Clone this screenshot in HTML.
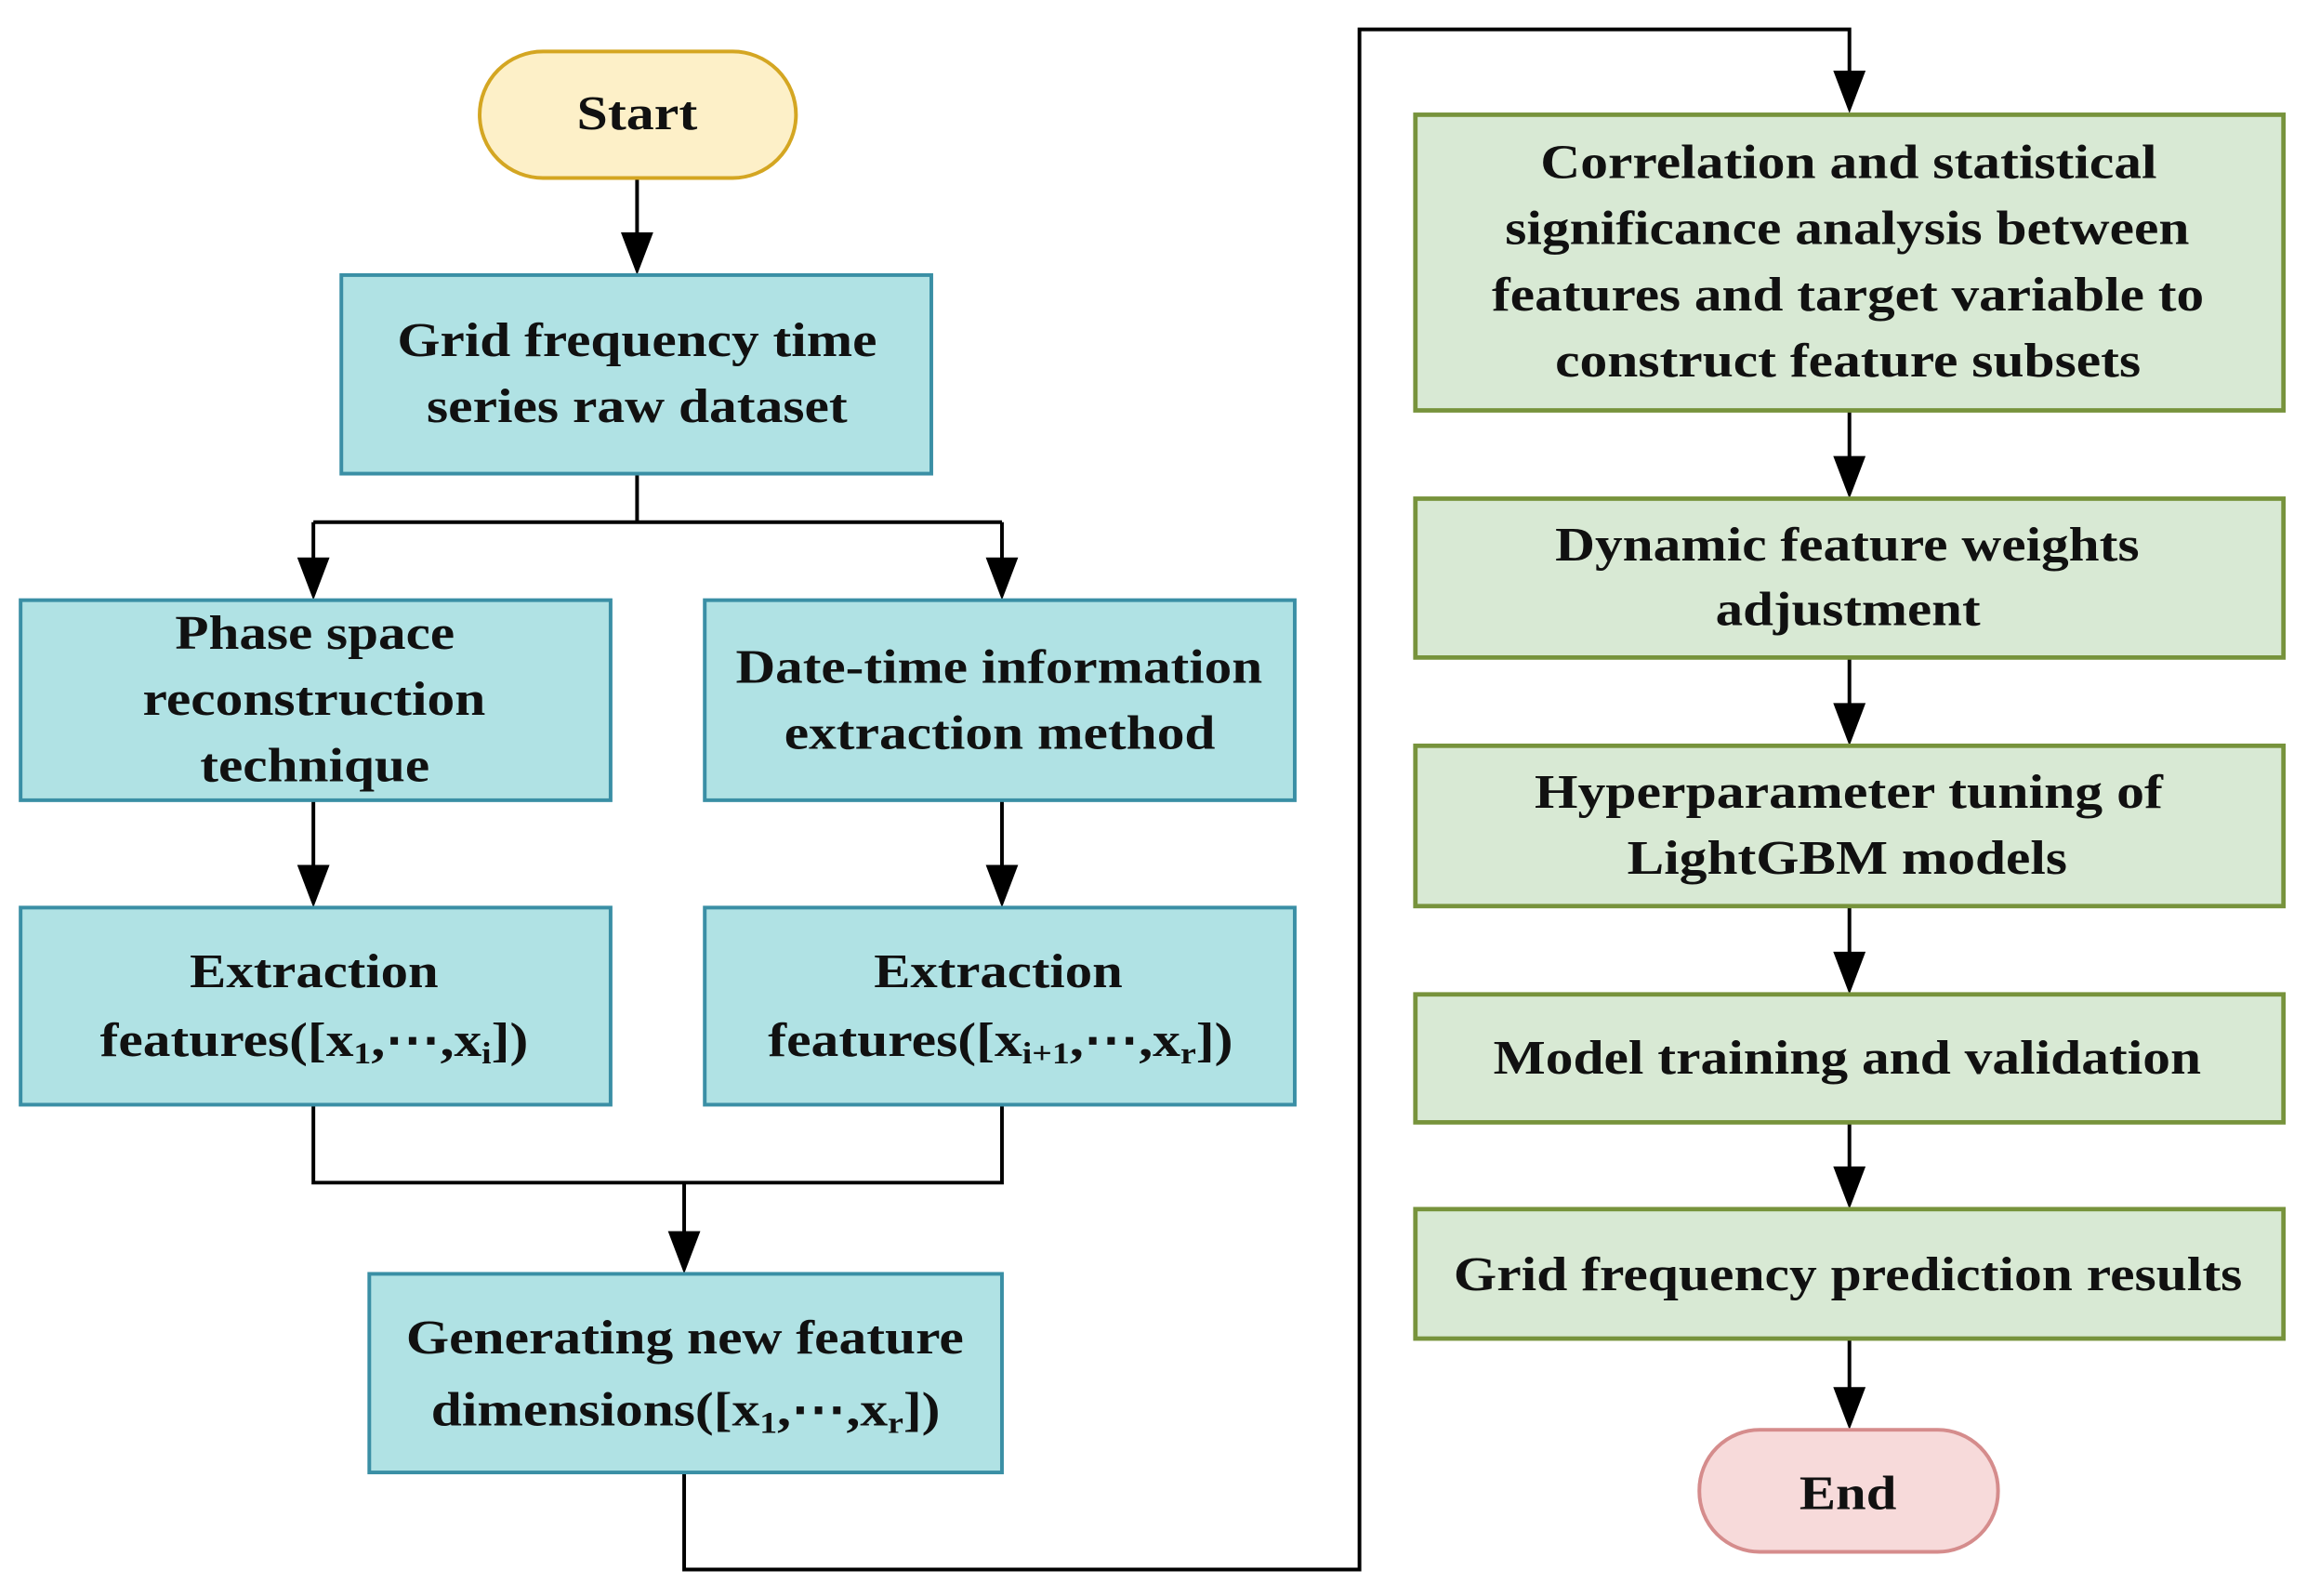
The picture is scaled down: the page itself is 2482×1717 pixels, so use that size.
<!DOCTYPE html>
<html><head><meta charset="utf-8"><style>html,body{margin:0;padding:0;background:#fff}svg{display:block}</style></head>
<body>
<svg width="2482" height="1717" viewBox="0 0 1568 1085" preserveAspectRatio="none" xmlns="http://www.w3.org/2000/svg">
<g fill="none" stroke="#000" stroke-width="2.5">
<path d="M433,121 V165"/>
<path d="M433,322 V355 M213,355 H681 M213,355 V385 M681,355 V385"/>
<path d="M213,544 V595 M681,544 V595"/>
<path d="M213,751 V804 H681 V751 M465,804 V845"/>
<path d="M465,1001 V1067 H924 V20 H1257 V55"/>
<path d="M1257,279 V318 M1257,447 V485 M1257,616 V655 M1257,763 V800 M1257,910 V950"/>
</g>
<g fill="#000">
<path d="M422,158 H444 L433,187 Z"/>
<path d="M202,379 H224 L213,408 Z"/>
<path d="M670,379 H692 L681,408 Z"/>
<path d="M202,588 H224 L213,617 Z"/>
<path d="M670,588 H692 L681,617 Z"/>
<path d="M454,837 H476 L465,866 Z"/>
<path d="M1246,48 H1268 L1257,77 Z"/>
<path d="M1246,310 H1268 L1257,339 Z"/>
<path d="M1246,478 H1268 L1257,507 Z"/>
<path d="M1246,647 H1268 L1257,676 Z"/>
<path d="M1246,793 H1268 L1257,822 Z"/>
<path d="M1246,943 H1268 L1257,972 Z"/>
</g>
<g stroke-width="2.5">
<rect x="326" y="35" width="215" height="86" rx="43" fill="#fdf0c8" stroke="#d4a622"/>
<rect x="1155" y="972" width="203" height="83" rx="41" fill="#f7dada" stroke="#d58c8c"/>
<g fill="#b0e2e4" stroke="#3a8fa5">
<rect x="232" y="187" width="401" height="135"/>
<rect x="14" y="408" width="401" height="136"/>
<rect x="479" y="408" width="401" height="136"/>
<rect x="14" y="617" width="401" height="134"/>
<rect x="479" y="617" width="401" height="134"/>
<rect x="251" y="866" width="430" height="135"/>
</g>
<g fill="#d8e9d4" stroke="#77933c" stroke-width="3">
<rect x="962" y="78" width="590" height="201"/>
<rect x="962" y="339" width="590" height="108"/>
<rect x="962" y="507" width="590" height="109"/>
<rect x="962" y="676" width="590" height="87"/>
<rect x="962" y="822" width="590" height="88"/>
</g>
</g>
<g font-family="'Liberation Serif', serif" font-weight="bold" font-size="33" fill="#111">
<text x="392" y="88" textLength="82" lengthAdjust="spacingAndGlyphs">Start</text>
<text x="1223" y="1026" textLength="66" lengthAdjust="spacingAndGlyphs">End</text>
<text x="270" y="242" textLength="326" lengthAdjust="spacingAndGlyphs">Grid frequency time</text>
<text x="290" y="287" textLength="286" lengthAdjust="spacingAndGlyphs">series raw dataset</text>
<text x="119" y="441" textLength="190" lengthAdjust="spacingAndGlyphs">Phase space</text>
<text x="97" y="486" textLength="233" lengthAdjust="spacingAndGlyphs">reconstruction</text>
<text x="136" y="531" textLength="156" lengthAdjust="spacingAndGlyphs">technique</text>
<text x="500" y="464" textLength="358" lengthAdjust="spacingAndGlyphs">Date-time information</text>
<text x="533" y="509" textLength="293" lengthAdjust="spacingAndGlyphs">extraction method</text>
<text x="129" y="671" textLength="169" lengthAdjust="spacingAndGlyphs">Extraction</text>
<text x="68" y="718" textLength="291" lengthAdjust="spacingAndGlyphs">features([x<tspan font-size="21" dy="5">1</tspan><tspan dy="-5">,⋯,x</tspan><tspan font-size="21" dy="5">i</tspan><tspan dy="-5">])</tspan></text>
<text x="594" y="671" textLength="169" lengthAdjust="spacingAndGlyphs">Extraction</text>
<text x="522" y="718" textLength="316" lengthAdjust="spacingAndGlyphs">features([x<tspan font-size="21" dy="5">i+1</tspan><tspan dy="-5">,⋯,x</tspan><tspan font-size="21" dy="5">r</tspan><tspan dy="-5">])</tspan></text>
<text x="276" y="920" textLength="379" lengthAdjust="spacingAndGlyphs">Generating new feature</text>
<text x="293" y="969" textLength="346" lengthAdjust="spacingAndGlyphs">dimensions([x<tspan font-size="21" dy="5">1</tspan><tspan dy="-5">,⋯,x</tspan><tspan font-size="21" dy="5">r</tspan><tspan dy="-5">])</tspan></text>
<text x="1047" y="121" textLength="419" lengthAdjust="spacingAndGlyphs">Correlation and statistical</text>
<text x="1023" y="166" textLength="465" lengthAdjust="spacingAndGlyphs">significance analysis between</text>
<text x="1014" y="211" textLength="484" lengthAdjust="spacingAndGlyphs">features and target variable to</text>
<text x="1057" y="256" textLength="398" lengthAdjust="spacingAndGlyphs">construct feature subsets</text>
<text x="1057" y="381" textLength="397" lengthAdjust="spacingAndGlyphs">Dynamic feature weights</text>
<text x="1166" y="425" textLength="180" lengthAdjust="spacingAndGlyphs">adjustment</text>
<text x="1043" y="549" textLength="427" lengthAdjust="spacingAndGlyphs">Hyperparameter tuning of</text>
<text x="1106" y="594" textLength="299" lengthAdjust="spacingAndGlyphs">LightGBM models</text>
<text x="1015" y="730" textLength="481" lengthAdjust="spacingAndGlyphs">Model training and validation</text>
<text x="988" y="877" textLength="536" lengthAdjust="spacingAndGlyphs">Grid frequency prediction results</text>
</g>
</svg>
</body></html>
